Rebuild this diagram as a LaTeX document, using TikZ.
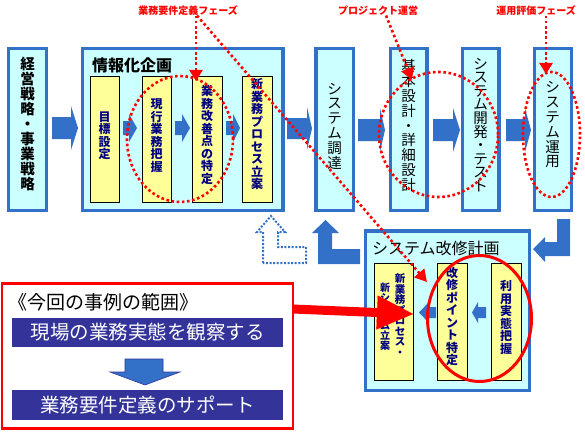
\documentclass[tikz,border=0pt]{standalone}
\usepackage{fontspec}
\setmainfont{Noto Sans CJK JP}
\usetikzlibrary{arrows.meta}

\definecolor{sysblue}{RGB}{51,112,200}
\definecolor{lcyan}{RGB}{204,255,255}
\definecolor{lyellow}{RGB}{255,255,153}
\definecolor{navytext}{RGB}{0,0,128}
\definecolor{barblue}{RGB}{51,51,153}

\tikzset{
  phase/.style={draw=sysblue, fill=lcyan, line width=3.5pt},
  task/.style={draw=black, fill=lyellow, line width=0.8pt},
  phasetext/.style={align=center, inner sep=0pt, font=\fontsize{14.5}{14.8}\selectfont},
  tasktext/.style={navytext, align=center, inner sep=0pt, font=\bfseries\fontsize{12}{12.5}\selectfont},
  barrow/.style={fill=sysblue},
  reddot/.style={red, line width=2.6pt, dash pattern=on 2.6pt off 2.6pt},
  redlabel/.style={red, inner sep=0pt, font=\bfseries\fontsize{10}{10}\selectfont},
  dotblue/.style={sysblue, line width=2pt, dash pattern=on 2pt off 1.6pt},
  bar/.style={fill=barblue, text=white, minimum width=271pt, minimum height=29.5pt, inner sep=0pt, font=\fontsize{19.5}{19.5}\selectfont},
}

\begin{document}
\begin{tikzpicture}[x=1pt,y=-1pt]
\useasboundingbox (0,0) rectangle (585,433);

% upper row
\draw[phase] (8.5,48.5) rectangle (46.5,210.5);
\node[phasetext, font=\bfseries\fontsize{14.5}{15}\selectfont] (strategy) at (27.5,124.5) {経\\営\\戦\\略\\・\\事\\業\\戦\\略};

\draw[phase] (82.5,48.5) rectangle (283,210.5);
\node[anchor=west, inner sep=0pt, font=\bfseries\fontsize{16}{16}\selectfont] (planning) at (92,65) {情報化企画};
\draw[task] (90,76) rectangle (119,202);
\draw[task] (142,76) rectangle (171,202);
\draw[task] (192,76) rectangle (222,202);
\draw[task] (242,76) rectangle (272,202);
\node[tasktext] (goal) at (104.5,136) {目\\標\\設\\定};
\node[tasktext] (current) at (156.5,135.5) {現\\行\\業\\務\\把\\握};
\node[tasktext] (improve) at (207,135) {業\\務\\改\\善\\点\\の\\特\\定};
\node[tasktext] (newproc) at (257,134) {新\\業\\務\\プ\\ロ\\セ\\ス\\立\\案};

\draw[phase] (316,48.5) rectangle (353.5,210.5);
\draw[phase] (390.5,48.5) rectangle (427,210.5);
\draw[phase] (462.5,48.5) rectangle (499,210.5);
\draw[phase] (534.5,48.5) rectangle (571.5,210.5);
\node[phasetext] (procure) at (334.5,126) {シ\\ス\\テ\\ム\\調\\達};
\node[phasetext] (design) at (408.5,125.5) {基\\本\\設\\計\\・\\詳\\細\\設\\計};
\node[phasetext, font=\fontsize{14.5}{13.6}\selectfont] (develop) at (480.5,125) {シ\\ス\\テ\\ム\\開\\発\\・\\テ\\ス\\ト};
\node[phasetext] (operate) at (552.5,125) {シ\\ス\\テ\\ム\\運\\用};

% block arrows
\fill[barrow] (52,117) -- (71,117) -- (71,106) -- (78,128) -- (71,150) -- (71,139) -- (52,139) -- cycle;
\fill[barrow] (287,118) -- (307,118) -- (307,107) -- (312,128.5) -- (307,150) -- (307,139) -- (287,139) -- cycle;
\fill[barrow] (358,119) -- (380,119) -- (380,108) -- (385,130) -- (380,152) -- (380,141) -- (358,141) -- cycle;
\fill[barrow] (433,119) -- (453,119) -- (453,108) -- (460,130) -- (453,152) -- (453,141) -- (433,141) -- cycle;
\fill[barrow] (506,119) -- (525,119) -- (525,108) -- (531,130) -- (525,152) -- (525,141) -- (506,141) -- cycle;
\fill[barrow] (123,121) -- (129,121) -- (129,114) -- (137,128) -- (129,142) -- (129,135) -- (123,135) -- cycle;
\fill[barrow] (175,121) -- (182,121) -- (182,114) -- (190,128) -- (182,142) -- (182,135) -- (175,135) -- cycle;
\fill[barrow] (226,121) -- (233,121) -- (233,114) -- (240,128) -- (233,142) -- (233,135) -- (226,135) -- cycle;

% lower box
\draw[phase] (365.5,231) rectangle (529.5,390.5);
\node[anchor=west, inner sep=0pt, font=\fontsize{16}{16}\selectfont] (repair) at (372,248) {システム改修計画};
\draw[task] (374,263) rectangle (413,380);
\draw[task] (437,263) rectangle (467,380);
\draw[task] (491,263) rectangle (521,380);
\node[tasktext, font=\bfseries\fontsize{10.5}{10.5}\selectfont] (newproc2) at (400,315) {新\\業\\務\\プ\\ロ\\セ\\ス\\・};
\node[tasktext, font=\bfseries\fontsize{10}{9.6}\selectfont] (newsys) at (385,316.5) {新\\シ\\ス\\テ\\ム\\立\\案};
\node[tasktext] (point) at (452,316.5) {改\\修\\ポ\\イ\\ン\\ト\\特\\定};
\node[tasktext] (usage) at (506,317.5) {利\\用\\実\\態\\把\\握};
\fill[barrow] (436,307) -- (429,307) -- (429,302) -- (419,312.5) -- (429,323) -- (429,318) -- (436,318) -- cycle;
\fill[barrow] (486,307) -- (478,307) -- (478,302) -- (472,312.5) -- (478,323) -- (478,318) -- (486,318) -- cycle;

% L arrows
\fill[barrow] (557,219) -- (570,219) -- (570,256) -- (545,256) -- (545,262) -- (533,249) -- (545,237) -- (545,242) -- (557,242) -- cycle;
\fill[barrow] (360,249) -- (360,264) -- (318,264) -- (318,233) -- (312,233) -- (325.5,220) -- (339,233) -- (332,233) -- (332,249) -- cycle;
\draw[dotblue] (263,263) -- (263,232) -- (257,232) -- (271,216) -- (285,232) -- (278,232) -- (278,247) -- (306,247) -- (306,263) -- cycle;

% red marks
\draw[reddot] (180,139) ellipse (53pt and 63pt);
\draw[reddot] (438.5,134.5) ellipse (59.5pt and 62.5pt);
\draw[reddot] (551.5,134.5) ellipse (28.5pt and 62.5pt);
\draw[red, line width=3pt] (479.5,318.5) ellipse (52pt and 63pt);

\node[redlabel] (reqphase) at (188,10.5) {業務要件定義フェーズ};
\node[redlabel] (projmgmt) at (378,10.5) {プロジェクト運営};
\node[redlabel] (evalphase) at (536,10.5) {運用評価フェーズ};
\coordinate (t1) at (196,81);
\coordinate (t2) at (427,282);
\coordinate (t3) at (412,80);
\coordinate (t4) at (546,74);
\draw[reddot, -{Triangle[length=11pt,width=13pt]}] (reqphase.south -| t1) -- (t1);
\draw[reddot, -{Triangle[length=12pt,width=13pt]}] ([xshift=9pt]reqphase.south) -- (t2);
\draw[reddot, -{Triangle[length=12pt,width=13pt]}] ([xshift=8pt]projmgmt.south) -- (t3);
\draw[reddot, -{Triangle[length=11pt,width=13pt]}] (evalphase.south -| t4) -- (t4);

% scope of this case
\draw[red, line width=2.5pt] (2,283.5) rectangle (293,428.5);
\node[anchor=west, inner sep=0pt, font=\fontsize{19}{19}\selectfont] (scope) at (8,302) {《今回の事例の範囲》};
\node[bar] (observe) at (147.5,332.5) {現場の業務実態を観察する};
\node[bar] (support) at (147.5,405) {業務要件定義のサポート};
\filldraw[fill=sysblue, draw=barblue, line width=0.6pt] (125,359) -- (163,359) -- (163,372) -- (180,372) -- (145,385) -- (110,372) -- (125,372) -- cycle;
\coordinate (rs) at (293,309);
\coordinate (re) at (413,314);
\draw[red, line width=9pt, -{Triangle[length=36pt,width=34pt,line width=0.1pt]}] (rs) -- (re);
\end{tikzpicture}
\end{document}
